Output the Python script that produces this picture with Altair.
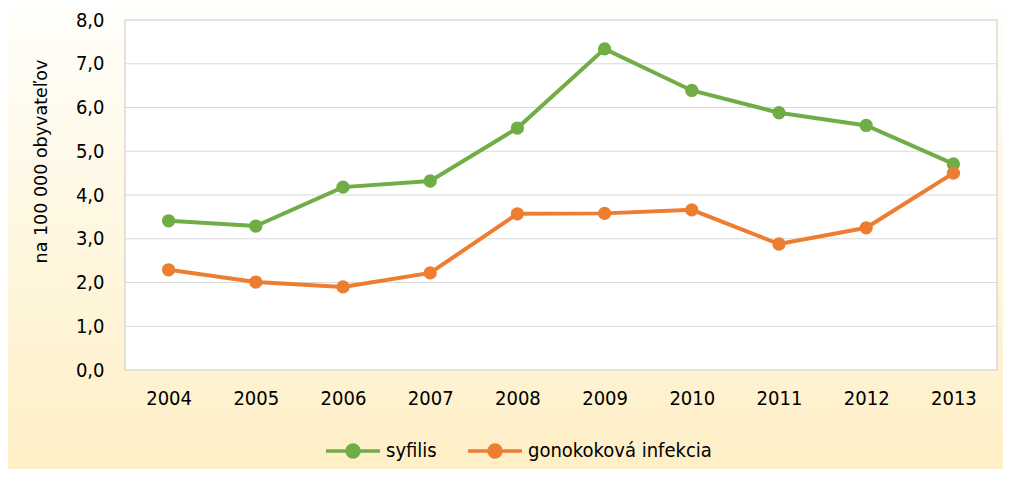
import altair as alt
import pandas as pd

years = ["2004", "2005", "2006", "2007", "2008", "2009", "2010", "2011", "2012", "2013"]
syfilis = [3.41, 3.29, 4.18, 4.32, 5.53, 7.34, 6.39, 5.88, 5.59, 4.71]
gonokok = [2.29, 2.01, 1.90, 2.22, 3.57, 3.58, 3.66, 2.88, 3.25, 4.50]
series_names = ["syfilis", "gonokoková infekcia"]
series_colors = ["#70AD47", "#ED7D31"]
y_ticks = [0, 1, 2, 3, 4, 5, 6, 7, 8]
grid_values = [1, 2, 3, 4, 5, 6, 7]

W, H = 872, 350
FONT = "DejaVu Sans Condensed, DejaVu Sans"

df = pd.DataFrame({
    "year": years * 2,
    "value": syfilis + gonokok,
    "series": [series_names[0]] * len(years) + [series_names[1]] * len(years),
})
grid_df = pd.DataFrame({"value": grid_values})
one = pd.DataFrame({"a": [0]})

bg = alt.Chart(one).mark_rect(
    fill=alt.Gradient(
        gradient="linear",
        stops=[alt.GradientStop(color="#FFFEFA", offset=0),
               alt.GradientStop(color="#FEEFC6", offset=1)],
        x1=0, x2=0, y1=0, y2=1,
    )
).encode(x=alt.value(-117), x2=alt.value(W + 6), y=alt.value(-12), y2=alt.value(H + 99))

plot_bg = alt.Chart(one).mark_rect(fill="#FFFFFF", stroke="#C8C8C8", strokeWidth=1).encode(
    x=alt.value(0), x2=alt.value(W), y=alt.value(0), y2=alt.value(H)
)

yscale = alt.Scale(domain=[0, 8], nice=False)

y_axis = alt.Axis(values=y_ticks, labelExpr="replace(format(datum.value, '.1f'), '.', ',')",
                  labelPadding=21, tickSize=0, ticks=False, domain=False, grid=False,
                  zindex=1, labelFont=FONT, labelFontSize=20, labelColor="#000000",
                  titleFont="DejaVu Sans", titleFontSize=17.5, titleFontWeight="normal",
                  titleColor="#000000", titleX=-84, titleY=141, titleAngle=270,
                  titleAlign="center", titleBaseline="middle")
y_enc = alt.Y("value:Q", scale=yscale, title="na 100 000 obyvateľov", axis=y_axis)

grid = alt.Chart(grid_df).mark_rule(color="#D9D9D9", strokeWidth=1).encode(y=y_enc)

color = alt.Color(
    "series:N",
    scale=alt.Scale(domain=series_names, range=series_colors),
    sort=series_names,
    legend=alt.Legend(
        title=None,
        orient="none",
        legendX=199,
        legendY=402,
        direction="horizontal",
        columns=2,
        columnPadding=24,
        symbolType="M-1,0L1,0M0.22,0A0.22,0.22,0,1,1,-0.22,0A0.22,0.22,0,1,1,0.22,0Z",
        symbolSize=2916,
        symbolStrokeWidth=3.5,
        symbolOpacity=1,
        labelFont=FONT,
        labelFontSize=20,
        labelColor="#000000",
        labelOffset=4,
        labelLimit=400,
    ),
)

x_enc = alt.X("year:O", sort=years, title=None,
              axis=alt.Axis(labelAngle=0, labelPadding=18, tickSize=0, ticks=False,
                            domain=False, grid=False, zindex=1,
                            labelFont=FONT, labelFontSize=20, labelColor="#000000"))

lines = alt.Chart(df).mark_line(strokeWidth=4).encode(x=x_enc, y=y_enc, color=color)
points = alt.Chart(df).mark_circle(size=177, opacity=1).encode(x=x_enc, y=y_enc, color=color)

chart = alt.layer(bg, plot_bg, grid, lines, points).properties(
    width=W, height=H, padding=0
).configure_view(stroke=None).configure(background="#FFFFFF")

chart.save("out.html", embed_options={"renderer": "svg", "actions": False})
